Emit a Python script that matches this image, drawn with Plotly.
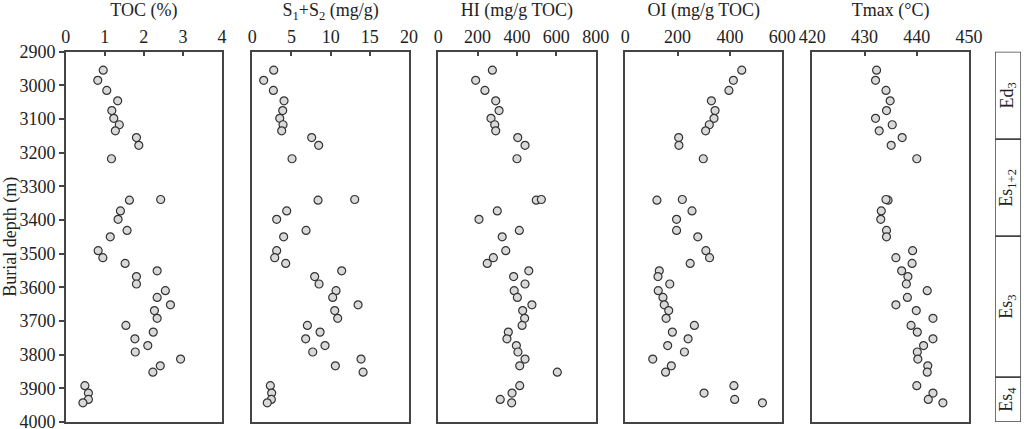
import plotly.graph_objects as go

# sample depths (m), shared by all five panels
depth = [2955, 2985, 3015, 3046, 3075, 3098, 3117, 3135, 3155, 3178,
         3218, 3341, 3339, 3373, 3398, 3431, 3450, 3491, 3512, 3529,
         3551, 3568, 3590, 3610, 3630, 3652, 3669, 3692, 3713, 3733,
         3753, 3773, 3792, 3813, 3833, 3852, 3892, 3914, 3933, 3943]

toc = [0.96, 0.82, 1.05, 1.33, 1.18, 1.23, 1.37, 1.27, 1.81, 1.87,
       1.17, 1.63, 2.43, 1.40, 1.34, 1.57, 1.14, 0.83, 0.95, 1.52,
       2.34, 1.81, 1.81, 2.55, 2.34, 2.68, 2.27, 2.34, 1.54, 2.24,
       1.77, 2.10, 1.78, 2.94, 2.42, 2.23, 0.49, 0.58, 0.58, 0.44]

s1s2 = [2.73, 1.45, 2.69, 4.05, 3.88, 3.50, 3.92, 3.75, 7.58, 8.47,
        5.07, 8.39, 13.07, 4.39, 3.11, 6.86, 4.00, 3.11, 2.86, 4.26,
        11.41, 7.96, 8.52, 10.69, 10.26, 13.50, 10.52, 10.90, 7.03, 8.65,
        6.81, 9.28, 7.71, 13.88, 10.60, 14.14, 2.30, 2.47, 2.43, 1.91]

hi = [275, 190, 237, 292, 309, 268, 287, 292, 404, 441,
      400, 498, 524, 300, 207, 412, 325, 343, 280, 249,
      460, 383, 441, 386, 402, 476, 429, 439, 426, 356,
      349, 397, 405, 441, 414, 605, 414, 375, 315, 373]

oi = [445, 413, 396, 329, 343, 339, 321, 307, 204, 205,
      298, 121, 218, 255, 196, 196, 277, 308, 322, 248,
      130, 125, 170, 126, 144, 149, 166, 156, 264, 180,
      240, 162, 226, 105, 176, 154, 415, 301, 418, 524]

tmax = [432.3, 432.1, 434.1, 434.9, 434.2, 432.1, 435.3, 432.8, 437.2, 435.1,
        440.0, 434.5, 434.1, 433.2, 433.1, 434.2, 434.2, 439.2, 436.0, 439.1,
        437.1, 438.3, 438.0, 442.0, 438.2, 436.0, 439.9, 443.1, 438.9, 440.1,
        443.1, 441.3, 440.1, 440.2, 442.1, 442.0, 440.0, 443.1, 442.2, 445.0]

panel_titles = ["TOC (%)", "S<sub>1</sub>+S<sub>2</sub> (mg/g)", "HI (mg/g TOC)",
                "OI (mg/g TOC)", "Tmax (°C)"]
panel_ranges = [[0, 4], [0, 20], [0, 800], [0, 600], [420, 450]]
panel_dtick = [1, 5, 200, 200, 10]

# stratigraphic units
fm_names = ["Ed<sub>3</sub>", "Es<sub>1+2</sub>", "Es<sub>3</sub>", "Es<sub>4</sub>"]
fm_top = [2900, 3160, 3448, 3867]
fm_base = [3160, 3448, 3867, 4000]

font = "Liberation Serif, Times New Roman, serif"
line_col = "#444444"
txt_col = "#222222"
fsize = 18

x_dom = [[0.0642, 0.2168], [0.2464, 0.3994], [0.4280, 0.5817],
         [0.6106, 0.7640], [0.7933, 0.9463]]
y_dom = [0.0163, 0.8795]

fig = go.Figure()
series = [toc, s1s2, hi, oi, tmax]
for i, vals in enumerate(series):
    n = "" if i == 0 else str(i + 1)
    fig.add_trace(go.Scatter(
        x=vals, y=depth, mode="markers", xaxis="x" + n, yaxis="y" + n,
        marker=dict(size=8, color="#d9d9d9", line=dict(color="#333333", width=1.2)),
        showlegend=False, hoverinfo="x+y"))

layout = dict(
    width=1024, height=429, template="none",
    margin=dict(l=0, r=0, t=0, b=0),
    paper_bgcolor="white", plot_bgcolor="white",
    font=dict(family=font, size=fsize, color=txt_col),
    showlegend=False,
)

for i in range(5):
    n = "" if i == 0 else str(i + 1)
    layout["xaxis" + n] = dict(
        domain=x_dom[i], range=panel_ranges[i], dtick=panel_dtick[i],
        side="top", anchor="y" + n, ticks="inside", ticklen=5, tickwidth=1.5,
        tickcolor=line_col, showline=True, mirror=True, linecolor=line_col,
        linewidth=1.5, showgrid=False, zeroline=False, automargin=False,
        tickfont=dict(size=fsize), ticklabelstandoff=0, ticklabeloverflow="allow",
        title=dict(text=panel_titles[i], font=dict(size=fsize), standoff=5))
    layout["yaxis" + n] = dict(
        domain=y_dom, range=[4000, 2900], dtick=100, anchor="x" + n,
        showline=True, mirror=True, linecolor=line_col, linewidth=1.5,
        showgrid=False, zeroline=False, automargin=False,
        ticks="outside" if i == 0 else "", ticklen=5, tickwidth=1.5,
        tickcolor=line_col, showticklabels=(i == 0), tickfont=dict(size=fsize),
        ticklabeloverflow="allow",
        title=dict(text="Burial depth (m)" if i == 0 else "", font=dict(size=fsize),
                   standoff=2))

# stratigraphic column axes
layout["xaxis6"] = dict(domain=[0.9717, 0.9971], range=[0, 1], anchor="y6",
                        visible=False, automargin=False)
layout["yaxis6"] = dict(domain=y_dom, range=[4000, 2900], anchor="x6",
                        visible=False, automargin=False)
fig.update_layout(**layout)

for name, top, base in zip(fm_names, fm_top, fm_base):
    fig.add_shape(type="rect", xref="x6", yref="y6", x0=0, x1=1, y0=top, y1=base,
                  line=dict(color=line_col, width=1.5), fillcolor="white", layer="below")
    fig.add_annotation(xref="x6", yref="y6", x=0.5, y=(top + base) / 2, text=name,
                       textangle=-90, showarrow=False, font=dict(size=fsize, color=txt_col))

fig.write_html("out.html", post_script="document.body.style.margin='0';",
               config=dict(displayModeBar=False))
